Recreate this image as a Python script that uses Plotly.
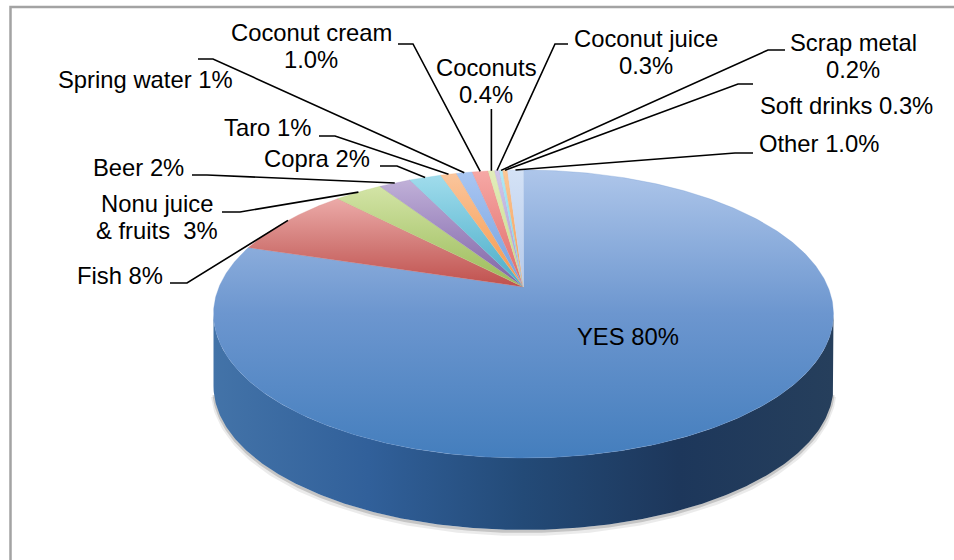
import numpy as np
import plotly.graph_objects as go

# ---------------- data ----------------
categories = ["YES", "Fish", "Nonu juice & fruits", "Beer", "Copra", "Taro",
              "Spring water", "Coconut cream", "Coconuts", "Coconut juice",
              "Scrap metal", "Soft drinks", "Other"]
values = [80, 8, 3, 2, 2, 1, 1, 1.0, 0.4, 0.3, 0.2, 0.3, 1.0]
decimals = [0, 0, 0, 0, 0, 0, 0, 1, 1, 1, 1, 1, 1]

# ---------------- styles ----------------
base_colors = ["#447EBD", "#C0504D", "#9BBB59", "#8064A2", "#4BACC6", "#F79646",
               "#74A0DE", "#E06A66", "#C5DB82", "#A896CF", "#72D0E8", "#F79A4E",
               "#B5CAEB"]
mid_colors = ["#6C96CF", "#D37D7A", "#B6CF7F", "#9E88BF", "#74C4DA", "#F8AE72",
              "#8EB3E8", "#EB8986", "#D4E49F", "#BDAFDC", "#92DDEE", "#F9B073",
              "#C5D6F0"]
light_colors = ["#AEC6EA", "#ECAAA8", "#D3E4A6", "#C0B0D8", "#A0DCEC", "#FAC59C",
                "#A9C6F2", "#F6A8A5", "#E2EDBC", "#D2C8EA", "#B2E9F5", "#FBC795",
                "#D4E2F6"]

FONT = "Liberation Sans, Arial, sans-serif"
FS = 23.8
LINE_H = 27.5

# pie geometry (pixels)
cx, cy, rx, ry, depth = 523.5, 314.0, 310.0, 144.0, 72.0
tb = 0.1875  # perspective shift of the centre
ch = 1.0 / np.sqrt(1 - tb ** 2)
sh = tb * ch


def proj(theta, r=1.0):
    x = r * np.cos(theta)
    y = r * np.sin(theta)
    d = sh * y + ch
    xp = x / d
    yp = (ch * y + sh) / d
    return cx + rx * xp, cy - ry * yp


total = float(sum(values))
fig = go.Figure()

# side (front wall) of the pie
psi = np.linspace(np.pi, 2 * np.pi, 300)
sx = cx + rx * np.cos(psi)
sy = cy - ry * np.sin(psi)
side_x = np.concatenate([sx, sx[::-1]])
side_y = np.concatenate([sy, (sy + depth)[::-1]])

# soft shadow under the wall
for off, alpha, w in [(3, 0.08, 6), (1.5, 0.16, 3)]:
    fig.add_trace(go.Scatter(x=sx[5:-5], y=sy[5:-5] + depth + off, mode="lines",
                             line=dict(color=f"rgba(0,0,0,{alpha})", width=w),
                             hoverinfo="skip", showlegend=False))

fig.add_trace(go.Scatter(
    x=side_x, y=side_y, mode="lines", fill="toself", line=dict(width=0),
    fillgradient=dict(type="horizontal",
                      colorscale=[[0, "#4373A8"], [0.25, "#31609A"],
                                  [0.5, "#234A77"], [0.75, "#1D375B"],
                                  [1, "#263F5C"]]),
    hoverinfo="skip", showlegend=False))

# top slices
start = np.pi / 2
mids = []
for i, v in enumerate(values):
    sweep = 2 * np.pi * v / total
    a0, a1 = start, start - sweep
    n = max(4, int(600 * v / total))
    th = np.linspace(a0, a1, n)
    ax_, ay_ = proj(th)
    px0, py0 = proj(0.0, 0.0)
    xs = np.concatenate([[px0], ax_, [px0]])
    ys = np.concatenate([[py0], ay_, [py0]])
    fig.add_trace(go.Scatter(
        x=xs, y=ys, mode="lines", fill="toself",
        line=dict(width=0.3, color=mid_colors[i]),
        fillgradient=dict(type="vertical",
                          colorscale=[[0, base_colors[i]], [0.5, mid_colors[i]],
                                      [1, light_colors[i]]]),
        hoverinfo="skip", showlegend=False, name=categories[i]))
    mids.append((a0 + a1) / 2)
    start = a1

# ---------------- labels ----------------
# name: (first-line word count, centre x, first line centre y)
label_pos = {
    "YES": (None, 628, 336),
    "Fish": (None, 120, 275),
    "Nonu juice & fruits": (2, 157, 203),
    "Beer": (None, 138, 167),
    "Copra": (None, 316.5, 158),
    "Taro": (None, 267.5, 127),
    "Spring water": (None, 145, 79),
    "Coconut cream": (2, 311, 32),
    "Coconuts": (1, 486, 67),
    "Coconut juice": (2, 646, 38),
    "Scrap metal": (2, 853, 42),
    "Soft drinks": (None, 846, 105),
    "Other": (None, 819, 143),
}
# leader: (outer x, elbow x, y)  ; outer None -> vertical leader
leader_pos = {
    "Fish": (170, 187, 283),
    "Nonu juice & fruits": (222, 240, 212),
    "Beer": (192, 207, 175),
    "Copra": (380, 397, 166),
    "Taro": (319, 335, 136),
    "Spring water": (198, 213, 59),
    "Coconut cream": (398, 413, 44),
    "Coconuts": (None, None, 109),
    "Coconut juice": (568, 555, 44),
    "Scrap metal": (785, 768, 50),
    "Soft drinks": (753, 738, 84),
    "Other": (753, 735, 153),
}

annotations = []
for i, cat in enumerate(categories):
    pct = f"{values[i]:.{decimals[i]}f}%"
    words = (cat + " " + pct).split(" ")
    nfirst, lx, ly = label_pos[cat]
    if nfirst is None:
        lines = [" ".join(words)]
    else:
        lines = [" ".join(words[:nfirst]), " ".join(words[nfirst:])]
        if cat == "Nonu juice & fruits":
            lines[1] = lines[1].replace(" " + pct, "\u00a0 " + pct)
    for k, t in enumerate(lines):
        annotations.append(dict(x=lx, y=ly + k * LINE_H, xref="x", yref="y",
                                text=t, showarrow=False, xanchor="center",
                                yanchor="middle",
                                font=dict(family=FONT, size=FS, color="black")))

lx_all, ly_all = [], []
for i, cat in enumerate(categories):
    if cat not in leader_pos:
        continue
    xo, xe, yl = leader_pos[cat]
    ex, ey = proj(mids[i])
    if xo is None:
        lx_all += [ex, ex, None]
        ly_all += [yl, ey, None]
    else:
        lx_all += [xo, xe, ex, None]
        ly_all += [yl, yl, ey, None]

fig.add_trace(go.Scatter(x=lx_all, y=ly_all, mode="lines",
                         line=dict(color="black", width=1.6),
                         hoverinfo="skip", showlegend=False))

fig.update_layout(
    width=954, height=560,
    margin=dict(l=0, r=0, t=0, b=0),
    paper_bgcolor="white", plot_bgcolor="white",
    xaxis=dict(range=[0, 954], visible=False, fixedrange=True),
    yaxis=dict(range=[560, 0], visible=False, fixedrange=True),
    annotations=annotations,
    shapes=[dict(type="rect", xref="x", yref="y", x0=10.5, y0=7, x1=1100, y1=900,
                 line=dict(color="#A3A3A3", width=2.5), layer="below")],
    showlegend=False,
)

fig.write_html("out.html")
